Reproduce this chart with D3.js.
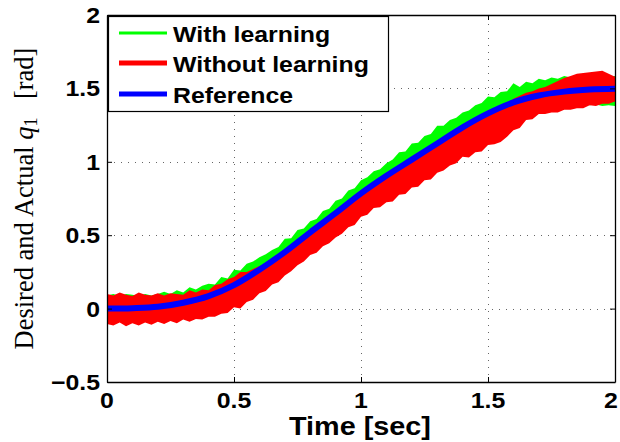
<!DOCTYPE html>
<html>
<head>
<meta charset="utf-8">
<script src="https://cdn.jsdelivr.net/npm/d3@7"></script>
<style>
  body { margin: 0; background: #fff; }
  svg { display: block; }
</style>
</head>
<body>
<svg id="chart" width="620" height="442"></svg>
<script>
// Axis ticks and labels
const xTickValues = [0, 0.5, 1, 1.5, 2];
const xTickLabels = ["0", "0.5", "1", "1.5", "2"];
const yTickValues = [-0.5, 0, 0.5, 1, 1.5, 2];
const yTickLabels = ["\u22120.5", "0", "0.5", "1", "1.5", "2"];
const seriesNames = ["With learning", "Without learning", "Reference"];
const seriesColors = ["#00ff00", "#ff0000", "#0000ff"];

// Desired joint trajectory q1 [rad], sampled every 0.1 s
const refTimes = d3.range(0, 2.0001, 0.1);
const referenceValues = [0, 0.003, 0.012, 0.04, 0.085, 0.16, 0.265, 0.385, 0.52, 0.65,
  0.785, 0.905, 1.015, 1.125, 1.235, 1.33, 1.405, 1.452, 1.478, 1.492, 1.497];

// Envelopes of the measured (oscillating) responses, sampled every 0.025 s
const bandTimes = d3.range(0, 2.0001, 0.025);
const withLearningUpper = [
  0.09, 0.10, 0.085, 0.10, 0.095, 0.085, 0.10, 0.09, 0.10,
  0.115, 0.10, 0.125, 0.11, 0.145, 0.13, 0.155, 0.17,
  0.165, 0.215, 0.205, 0.265, 0.26, 0.305, 0.32, 0.35,
  0.37, 0.40, 0.42, 0.475, 0.48, 0.535, 0.545, 0.595,
  0.61, 0.665, 0.68, 0.735, 0.75, 0.805, 0.82, 0.875,
  0.895, 0.935, 0.95, 0.99, 1.015, 1.065, 1.07, 1.125,
  1.13, 1.175, 1.19, 1.245, 1.245, 1.285, 1.30, 1.335,
  1.35, 1.385, 1.40, 1.445, 1.44, 1.475, 1.48, 1.535,
  1.51, 1.545, 1.535, 1.565, 1.555, 1.575, 1.565, 1.585,
  1.575, 1.585, 1.58, 1.59, 1.58, 1.595, 1.58, 1.585];
const withLearningLower = [
  -0.09, -0.095, -0.09, -0.088, -0.092, -0.09, -0.087, -0.09, -0.085,
  -0.08, -0.075, -0.07, -0.06, -0.05, -0.04, -0.03, -0.01,
  0.01, 0.03, 0.05, 0.07, 0.095, 0.12, 0.15, 0.175,
  0.205, 0.235, 0.265, 0.295, 0.33, 0.36, 0.395, 0.43,
  0.46, 0.495, 0.525, 0.56, 0.595, 0.63, 0.66, 0.695,
  0.725, 0.755, 0.785, 0.815, 0.84, 0.87, 0.895, 0.925,
  0.95, 0.98, 1.005, 1.035, 1.06, 1.09, 1.115, 1.145,
  1.17, 1.19, 1.215, 1.24, 1.26, 1.28, 1.295, 1.315,
  1.33, 1.34, 1.35, 1.36, 1.37, 1.375, 1.38, 1.385,
  1.39, 1.39, 1.395, 1.385, 1.39, 1.38, 1.385, 1.38];
const withoutLearningUpper = [
  0.10, 0.09, 0.11, 0.095, 0.085, 0.11, 0.095, 0.09, 0.105,
  0.09, 0.105, 0.10, 0.095, 0.125, 0.11, 0.13, 0.125,
  0.16, 0.17, 0.20, 0.215, 0.25, 0.25, 0.27, 0.29,
  0.30, 0.33, 0.36, 0.39, 0.425, 0.455, 0.49, 0.52,
  0.555, 0.585, 0.62, 0.65, 0.685, 0.72, 0.75, 0.785,
  0.815, 0.845, 0.875, 0.905, 0.93, 0.96, 0.985, 1.015,
  1.04, 1.07, 1.095, 1.125, 1.15, 1.18, 1.205, 1.235,
  1.26, 1.28, 1.305, 1.33, 1.35, 1.37, 1.39, 1.43,
  1.45, 1.47, 1.48, 1.50, 1.51, 1.53, 1.55, 1.57,
  1.585, 1.60, 1.605, 1.61, 1.615, 1.62, 1.60, 1.58];
const withoutLearningLower = [
  -0.105, -0.115, -0.095, -0.12, -0.10, -0.115, -0.095, -0.11, -0.09,
  -0.105, -0.085, -0.10, -0.075, -0.09, -0.07, -0.075, -0.055,
  -0.055, -0.035, -0.03, 0.01, 0.0, 0.045, 0.06, 0.105,
  0.12, 0.165, 0.18, 0.225, 0.255, 0.295, 0.32, 0.365,
  0.38, 0.425, 0.445, 0.485, 0.51, 0.555, 0.57, 0.625,
  0.64, 0.685, 0.69, 0.725, 0.73, 0.775, 0.78, 0.825,
  0.83, 0.875, 0.88, 0.925, 0.94, 0.975, 0.99, 1.035,
  1.03, 1.065, 1.07, 1.115, 1.12, 1.135, 1.17, 1.215,
  1.23, 1.285, 1.29, 1.325, 1.325, 1.335, 1.335, 1.355,
  1.355, 1.365, 1.365, 1.385, 1.38, 1.395, 1.395, 1.41];

// ---- layout ----
const plot = { left: 107, right: 615, top: 15, bottom: 382 };
const stretch = 1.13; // wide Helvetica-style lettering
const sansBold = "'Liberation Sans', Arial, Helvetica, sans-serif";

const svg = d3.select("#chart");
const x = d3.scaleLinear().domain([0, 2]).range([plot.left, plot.right]);
const y = d3.scaleLinear().domain([-0.5, 2]).range([plot.bottom, plot.top]);

svg.append("defs").append("clipPath").attr("id", "plot-clip")
  .append("rect")
  .attr("x", plot.left).attr("y", plot.top)
  .attr("width", plot.right - plot.left).attr("height", plot.bottom - plot.top);

// dotted grid
const grid = svg.append("g").attr("stroke", "#666").attr("stroke-width", 1)
  .attr("stroke-dasharray", "1,6");
grid.selectAll("line.gx").data(xTickValues.filter(v => v > 0 && v < 2)).join("line")
  .attr("class", "gx")
  .attr("x1", d => Math.round(x(d)) + 0.5).attr("x2", d => Math.round(x(d)) + 0.5)
  .attr("y1", plot.bottom).attr("y2", plot.top);
grid.selectAll("line.gy").data(yTickValues.filter(v => v > -0.5 && v < 2)).join("line")
  .attr("class", "gy")
  .attr("y1", d => Math.round(y(d)) + 0.5).attr("y2", d => Math.round(y(d)) + 0.5)
  .attr("x1", plot.left).attr("x2", plot.right);

// data
const marks = svg.append("g").attr("clip-path", "url(#plot-clip)");
const band = (upper, lower) => d3.area()
  .x((d, i) => x(bandTimes[i]))
  .y0((d, i) => y(lower[i]))
  .y1((d, i) => y(upper[i]));

marks.append("path")
  .attr("d", band(withLearningUpper, withLearningLower)(bandTimes))
  .attr("fill", seriesColors[0]);
marks.append("path")
  .attr("d", band(withoutLearningUpper, withoutLearningLower)(bandTimes))
  .attr("fill", seriesColors[1]);
marks.append("path")
  .attr("d", d3.line().curve(d3.curveMonotoneX)
    .x((d, i) => x(refTimes[i])).y(d => y(d))(referenceValues))
  .attr("fill", "none").attr("stroke", seriesColors[2]).attr("stroke-width", 6);

// axes: inward ticks on all four sides
const tick = 5;
svg.append("g").attr("transform", `translate(0,${plot.bottom})`)
  .call(d3.axisBottom(x).tickValues(xTickValues).tickSizeInner(-tick).tickSizeOuter(0).tickFormat(""));
svg.append("g").attr("transform", `translate(0,${plot.top})`)
  .call(d3.axisTop(x).tickValues(xTickValues).tickSizeInner(-tick).tickSizeOuter(0).tickFormat(""));
svg.append("g").attr("transform", `translate(${plot.left},0)`)
  .call(d3.axisLeft(y).tickValues(yTickValues).tickSizeInner(-tick).tickSizeOuter(0).tickFormat(""));
svg.append("g").attr("transform", `translate(${plot.right},0)`)
  .call(d3.axisRight(y).tickValues(yTickValues).tickSizeInner(-tick).tickSizeOuter(0).tickFormat(""));
svg.selectAll(".domain").attr("stroke", "#000").attr("stroke-width", 1.3);
svg.selectAll(".tick line").attr("stroke", "#000");

// tick labels (last x label kept inside the canvas edge)
svg.append("g").selectAll("text").data(xTickValues).join("text")
  .attr("transform", d => `translate(${Math.min(x(d), 611)},408) scale(${stretch},1)`)
  .attr("text-anchor", "middle")
  .attr("font-family", sansBold).attr("font-weight", "bold").attr("font-size", 22)
  .text((d, i) => xTickLabels[i]);
svg.append("g").selectAll("text").data(yTickValues).join("text")
  .attr("transform", d => `translate(100,${y(d) + 8}) scale(${stretch},1)`)
  .attr("text-anchor", "end")
  .attr("font-family", sansBold).attr("font-weight", "bold").attr("font-size", 22)
  .text((d, i) => yTickLabels[i]);

// axis titles
svg.append("text")
  .attr("transform", `translate(360,435) scale(${stretch},1)`)
  .attr("text-anchor", "middle")
  .attr("font-family", sansBold).attr("font-weight", "bold").attr("font-size", 25.5)
  .text("Time [sec]");

const yTitle = svg.append("text")
  .attr("transform", `translate(33,${(plot.top + plot.bottom) / 2}) scale(1.05,1) rotate(-90)`)
  .attr("text-anchor", "middle")
  .attr("font-family", "'Liberation Serif', 'Times New Roman', serif")
  .attr("font-size", 26.5);
yTitle.append("tspan").text("Desired and Actual ");
yTitle.append("tspan").attr("font-style", "italic").text("q");
yTitle.append("tspan").attr("font-size", 18).attr("dy", 4).text("1");
yTitle.append("tspan").attr("dy", -4).text("\u2002\u2009[rad]");

// legend
const legend = svg.append("g");
legend.append("rect")
  .attr("x", 108.5).attr("y", 16.5).attr("width", 280).attr("height", 95)
  .attr("fill", "#fff").attr("stroke", "#000").attr("stroke-width", 1.2);
const legendWidths = [3, 5, 5];
const rowY = [33, 63, 94];
seriesNames.forEach((name, i) => {
  legend.append("line")
    .attr("x1", 119).attr("x2", 167).attr("y1", rowY[i]).attr("y2", rowY[i])
    .attr("stroke", seriesColors[i]).attr("stroke-width", legendWidths[i]);
  legend.append("text")
    .attr("transform", `translate(173,${rowY[i] + 8.5}) scale(${stretch},1)`)
    .attr("font-family", sansBold).attr("font-weight", "bold").attr("font-size", 22)
    .text(name);
});
</script>
</body>
</html>
